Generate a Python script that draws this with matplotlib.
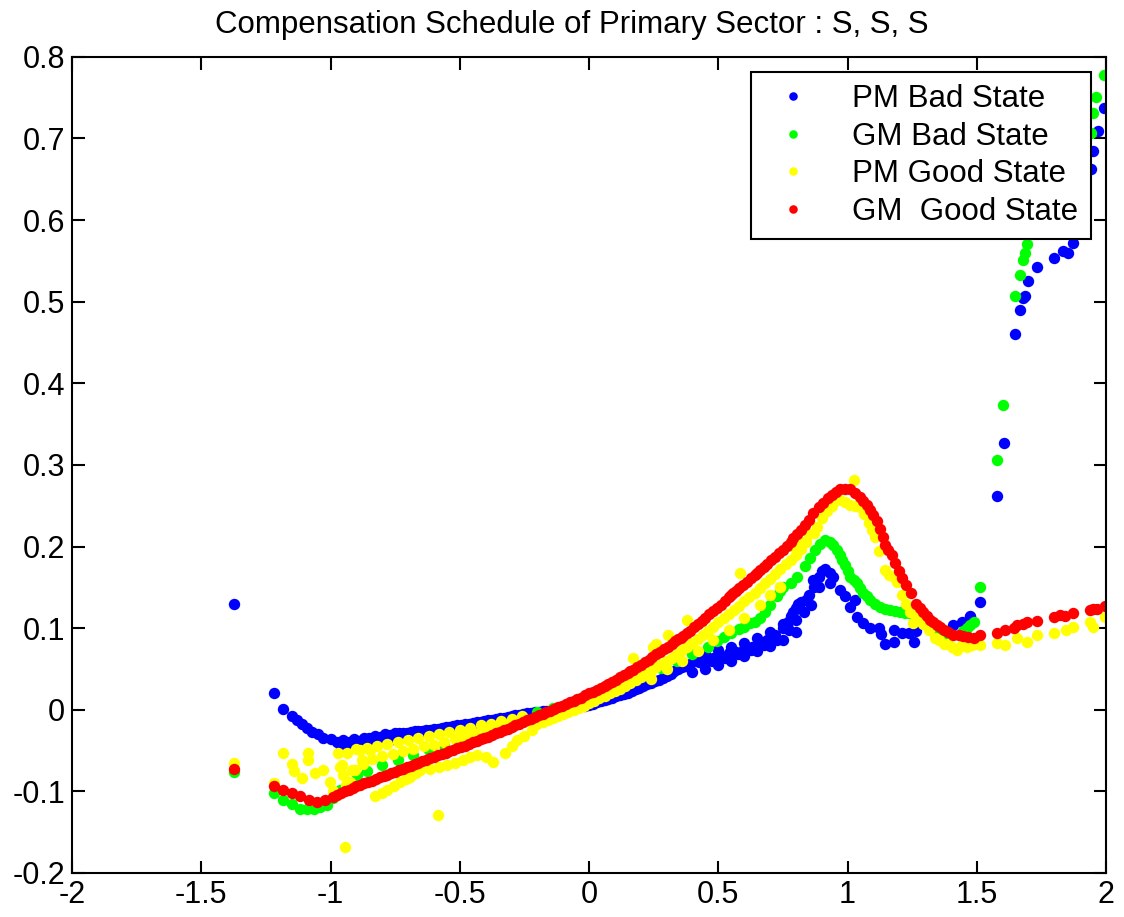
import matplotlib.pyplot as plt
import numpy as np

plt.rcParams['font.family'] = ['Liberation Sans', 'DejaVu Sans']

# PM Bad State (blue)
pm_bad_x = [-1.373, -1.217, -1.183, -1.15, -1.13, -1.11, -1.09, -1.07, -1.05, -1.03, -1.0, -0.976,
            -0.95, -0.93, -0.91, -0.89, -0.87, -0.85, -0.83, -0.81, -0.79, -0.77, -0.75, -0.72,
            -0.69, -0.66, -0.63, -0.60, -0.57, -0.54, -0.51, -0.48, -0.45, -0.42, -0.39, -0.36,
            -0.33, -0.30, -0.27, -0.24, -0.21, -0.18, -0.15, -0.12, -0.09, -0.06, -0.03, 0.0,
            0.03, 0.06, 0.09, 0.12, 0.15, 0.18, 0.21, 0.24, 0.27, 0.30, 0.33, 0.36, 0.39, 0.42,
            0.45, 0.48, 0.51, 0.54, 0.57, 0.60, 0.63, 0.66, 0.69, 0.72, 0.75, 0.77, 0.79, 0.81,
            -0.96, -0.93, -0.90, -0.87, -0.84, -0.80, -0.76,
            -0.735, -0.705, -0.675, -0.645, -0.615, -0.585, -0.555, -0.525, -0.495, -0.465, -0.435,
            -0.405, -0.375, -0.345, -0.315, -0.285, -0.255, -0.225, -0.195, -0.165, -0.135, -0.105,
            -0.075, -0.045, -0.015, 0.015, 0.045, 0.075, 0.105, 0.135, 0.165, 0.195, 0.225, 0.255,
            0.285, 0.315, 0.345, 0.375,
            0.45, 0.50, 0.55, 0.60, 0.65, 0.70, 0.75, 0.78, 0.80, 0.82, 0.84,
            0.40, 0.45, 0.50, 0.55, 0.60, 0.65, 0.70, 0.75, 0.80,
            0.425, 0.475, 0.525, 0.575, 0.625, 0.675, 0.725, 0.775, 0.80, 0.83, 0.85, 0.86,
            0.868, 0.888, 0.90, 0.913, 0.932, 0.945, 0.87, 0.89, 0.93, 0.971, 0.99, 1.01, 1.03,
            1.036, 1.061, 1.087, 1.12, 1.13, 1.145, 1.178, 1.178, 1.21, 1.236, 1.255, 1.265,
            1.293, 1.409, 1.441, 1.474, 1.475, 1.513, 1.577, 1.604, 1.649, 1.667, 1.68, 1.688,
            1.697, 1.733, 1.798, 1.832, 1.852, 1.871, 1.942, 1.948, 1.968, 1.991]
pm_bad_y = [0.130, 0.021, 0.001, -0.008, -0.012, -0.018, -0.022, -0.027, -0.030, -0.034, -0.036, -0.039,
            -0.037, -0.040, -0.036, -0.038, -0.034, -0.035, -0.032, -0.033, -0.030, -0.031, -0.029, -0.029,
            -0.027, -0.026, -0.025, -0.024, -0.022, -0.021, -0.019, -0.018, -0.016, -0.015, -0.013, -0.011,
            -0.010, -0.008, -0.006, -0.004, -0.003, -0.002, -0.001, 0.0, 0.001, 0.003, 0.004, 0.006,
            0.009, 0.012, 0.015, 0.018, 0.021, 0.025, 0.029, 0.033, 0.037, 0.041, 0.047, 0.052, 0.056, 0.060,
            0.062, 0.064, 0.066, 0.069, 0.071, 0.074, 0.077, 0.081, 0.086, 0.091, 0.100, 0.108, 0.120, 0.130,
            -0.046, -0.047, -0.044, -0.042, -0.040, -0.038, -0.036,
            -0.029, -0.028, -0.0265, -0.0255, -0.0245, -0.023, -0.0215, -0.020, -0.0185, -0.017, -0.0155,
            -0.014, -0.012, -0.0105, -0.009, -0.007, -0.005, -0.0035, -0.0025, -0.0015, -0.0005, 0.0005,
            0.002, 0.0035, 0.005, 0.0075, 0.0105, 0.0135, 0.0165, 0.0195, 0.023, 0.027, 0.031, 0.035,
            0.039, 0.044, 0.0495, 0.054,
            0.068, 0.073, 0.077, 0.082, 0.088, 0.095, 0.105, 0.115, 0.125, 0.132, 0.135,
            0.046, 0.050, 0.055, 0.060, 0.066, 0.072, 0.078, 0.085, 0.095,
            0.058, 0.060, 0.064, 0.068, 0.073, 0.079, 0.086, 0.098, 0.110, 0.120, 0.140, 0.128,
            0.159, 0.163, 0.170, 0.173, 0.167, 0.163, 0.150, 0.150, 0.155, 0.147, 0.139, 0.126, 0.135,
            0.114, 0.106, 0.100, 0.100, 0.093, 0.081, 0.083, 0.098, 0.094, 0.094, 0.083, 0.096,
            0.108, 0.104, 0.107, 0.114, 0.115, 0.132, 0.262, 0.327, 0.460, 0.490, 0.504, 0.507,
            0.525, 0.542, 0.553, 0.562, 0.560, 0.572, 0.662, 0.685, 0.709, 0.737]

# GM Bad State (green)
gm_bad_x = [-1.373, -1.217, -1.183, -1.15, -1.118, -1.09, -1.066, -1.04, -1.015, -0.99, -0.963, -0.93,
            -0.899, -0.86, -0.80, -0.74, -0.68, -0.62, -0.56, -0.50, -0.44, -0.38, -0.32, -0.26,
            -0.20, -0.14, -0.08, -0.02, 0.04, 0.10, 0.16, 0.22, 0.28, 0.34, 0.40, 0.46, 0.494,
            0.52, 0.55, 0.58, 0.60, 0.623, 0.64, 0.662, 0.68, 0.70, 0.726, 0.74, 0.752, 0.78,
            0.803, 0.835, 0.855, 0.874, 0.893, 0.913, 0.93, 0.945, 0.958, 0.971, 0.98, 0.99, 1.0,
            1.01, 1.023, 1.036, 1.048, 1.061, 1.074, 1.087, 1.105, 1.126, 1.145, 1.164, 1.184,
            1.203, 1.222, 1.242, 1.261, 1.281, 1.30, 1.319, 1.338, 1.358, 1.38, 1.448, 1.461,
            1.474, 1.487, 1.513, 1.577, 1.603, 1.649, 1.667, 1.678, 1.688, 1.694, 1.942, 1.948,
            1.961, 1.991]
gm_bad_y = [-0.076, -0.102, -0.111, -0.116, -0.121, -0.122, -0.121, -0.119, -0.117, -0.108, -0.098, -0.089,
            -0.080, -0.075, -0.068, -0.061, -0.055, -0.049, -0.043, -0.037, -0.031, -0.025, -0.018, -0.010,
            -0.003, 0.002, 0.007, 0.012, 0.019, 0.026, 0.034, 0.042, 0.051, 0.060, 0.068, 0.077, 0.084,
            0.089, 0.094, 0.099, 0.102, 0.106, 0.108, 0.112, 0.120, 0.128, 0.139, 0.145, 0.150, 0.155,
            0.163, 0.176, 0.186, 0.196, 0.203, 0.208, 0.205, 0.202, 0.196, 0.190, 0.183, 0.177, 0.170,
            0.163, 0.159, 0.155, 0.149, 0.143, 0.139, 0.135, 0.130, 0.126, 0.124, 0.122, 0.121,
            0.120, 0.119, 0.118, 0.115, 0.112, 0.108, 0.104, 0.099, 0.094, 0.090, 0.096, 0.100,
            0.104, 0.108, 0.151, 0.306, 0.373, 0.507, 0.533, 0.551, 0.560, 0.571, 0.707, 0.731,
            0.751, 0.778]

# PM Good State (yellow)
pm_good_x = [-1.373, -1.217, -1.183, -1.15, -1.14, -1.112, -1.086, -1.086, -1.06, -1.028, -1.002, -0.989,
             -0.97, -0.963, -0.957, -0.95, -0.94, -0.937, -0.925, -0.918, -0.905, -0.886, -0.873, -0.847,
             -0.944, -0.583,
             -0.90, -0.86, -0.82, -0.78, -0.74, -0.70, -0.66, -0.62, -0.58, -0.54, -0.50, -0.46, -0.42,
             -0.38, -0.34, -0.30, -0.26,
             -0.88, -0.84, -0.80, -0.76, -0.72, -0.68, -0.64, -0.60, -0.56, -0.52, -0.48, -0.44, -0.40,
             -0.36, -0.32, -0.28, -0.24,
             -0.828, -0.80, -0.783, -0.755, -0.731, -0.71, -0.692, -0.67, -0.654, -0.615, -0.58, -0.551,
             -0.52, -0.486, -0.46, -0.434, -0.40, -0.37, -0.325, -0.30, -0.28, -0.25, -0.22,
             -0.20, -0.16, -0.12, -0.08, -0.04, 0.0, 0.04, 0.08, 0.12, 0.16, 0.20, 0.24, 0.28, 0.32,
             0.36, 0.40, 0.44, 0.48, 0.52, 0.56, 0.60, 0.64, 0.68, 0.72, 0.76, 0.80, 0.84, 0.87,
             -0.18, -0.14, -0.10, -0.06, -0.02, 0.02, 0.06, 0.10, 0.14, 0.18, 0.22, 0.26, 0.30,
             0.34, 0.38, 0.42, 0.46, 0.50, 0.54, 0.58, 0.62, 0.66, 0.70, 0.74, 0.78, 0.82,
             0.24, 0.30, 0.36, 0.42, 0.48, 0.54, 0.60, 0.66, 0.70, 0.74,
             0.171, 0.248, 0.26, 0.306, 0.378, 0.584, 0.739, 0.791,
             0.82, 0.85, 0.881, 0.90, 0.919, 0.94, 0.971, 0.99, 1.01, 1.023, 1.03, 1.048, 1.065,
             1.081, 1.095, 1.107, 1.12, 1.145, 1.16, 1.178, 1.19, 1.21, 1.226, 1.24, 1.252, 1.265,
             1.29, 1.313, 1.338, 1.355, 1.371, 1.39, 1.405, 1.422, 1.44, 1.461, 1.48, 1.513, 1.577,
             1.61, 1.655, 1.694, 1.732, 1.797, 1.845, 1.87, 1.937, 1.95, 1.995]
pm_good_y = [-0.065, -0.090, -0.053, -0.066, -0.075, -0.084, -0.053, -0.062, -0.078, -0.074, -0.088, -0.100,
             -0.053, -0.070, -0.068, -0.080, -0.092, -0.053, -0.088, -0.074, -0.074, -0.049, -0.066, -0.049,
             -0.168, -0.129,
             -0.048, -0.047, -0.045, -0.042, -0.040, -0.037, -0.034, -0.032, -0.030, -0.027, -0.025, -0.022, -0.019,
             -0.017, -0.014, -0.011, -0.008,
             -0.062, -0.060, -0.057, -0.054, -0.051, -0.048, -0.045, -0.043, -0.040, -0.036, -0.033, -0.030, -0.027,
             -0.023, -0.020, -0.016, -0.012,
             -0.106, -0.102, -0.098, -0.093, -0.088, -0.085, -0.082, -0.078, -0.074, -0.072, -0.070, -0.068,
             -0.065, -0.062, -0.058, -0.055, -0.058, -0.064, -0.053, -0.045, -0.037, -0.032, -0.025,
             -0.018, -0.013, -0.008, -0.003, 0.002, 0.008, 0.014, 0.020, 0.026, 0.033, 0.040, 0.048, 0.056, 0.064,
             0.073, 0.082, 0.092, 0.102, 0.112, 0.122, 0.133, 0.143, 0.155, 0.166, 0.178, 0.190, 0.205, 0.216,
             -0.0155, -0.0105, -0.0055, -0.0005, 0.005, 0.011, 0.017, 0.023, 0.0295, 0.0365, 0.044, 0.052, 0.060,
             0.0685, 0.0775, 0.087, 0.097, 0.107, 0.117, 0.1275, 0.138, 0.149, 0.1605, 0.172, 0.184, 0.197,
             0.038, 0.050, 0.060, 0.072, 0.086, 0.098, 0.112, 0.128, 0.140, 0.150,
             0.063, 0.077, 0.080, 0.092, 0.110, 0.167, 0.151, 0.200,
             0.205, 0.215, 0.224, 0.235, 0.243, 0.250, 0.257, 0.255, 0.251, 0.282, 0.250, 0.249, 0.240,
             0.229, 0.220, 0.212, 0.195, 0.171, 0.165, 0.163, 0.156, 0.140, 0.130, 0.120, 0.106, 0.115,
             0.105, 0.098, 0.088, 0.085, 0.081, 0.080, 0.077, 0.073, 0.078, 0.077, 0.079, 0.079, 0.082,
             0.079, 0.088, 0.083, 0.092, 0.094, 0.098, 0.102, 0.107, 0.102, 0.114]

# GM Good State (red)
gm_good_x = [-1.373, -1.217, -1.183, -1.15, -1.118, -1.085, -1.054, -1.02, -0.99, -0.96, -0.93, -0.90,
             -0.87, -0.84, -0.81, -0.78, -0.75, -0.72, -0.69, -0.66, -0.63, -0.60, -0.57, -0.54,
             -0.51, -0.48, -0.45, -0.42, -0.39, -0.36, -0.33, -0.30, -0.27, -0.24, -0.21, -0.18,
             -0.15, -0.12, -0.09, -0.06, -0.03, 0.0, 0.03, 0.06, 0.09, 0.12, 0.15, 0.171, 0.20,
             0.23, 0.26, 0.29, 0.32, 0.345, 0.365, 0.39, 0.42, 0.45, 0.48, 0.51, 0.54, 0.558, 0.58,
             0.61, 0.64, 0.662, 0.69, 0.72, 0.752, 0.78, 0.803, 0.835, 0.868, 0.89, 0.906, 0.925,
             0.939, 0.955, 0.971, 0.99, 1.01, 1.03, 1.048, 1.06, 1.074, 1.087, 1.10, 1.113, 1.126,
             1.135, 1.145, 1.158, 1.171, 1.184, 1.197, 1.21, 1.226, 1.246, 1.265, 1.28, 1.293,
             1.306, 1.319, 1.332, 1.345, 1.358, 1.371, 1.39, 1.409, 1.43, 1.448, 1.467, 1.487,
             1.513, 1.577, 1.61, 1.643, 1.655, 1.68, 1.694, 1.732, 1.797, 1.82, 1.84, 1.87, 1.937,
             1.95, 1.963, 1.995,
             -0.975, -0.945, -0.915, -0.885, -0.855, -0.825, -0.795, -0.765, -0.735, -0.705, -0.675,
             -0.645, -0.615, -0.585, -0.555, -0.525, -0.495, -0.465, -0.435, -0.405, -0.375, -0.345,
             -0.315, -0.285, -0.255, -0.225, -0.195, -0.165, -0.135, -0.105, -0.075, -0.045, -0.015,
             0.015, 0.045, 0.075, 0.105, 0.135, 0.16, 0.185, 0.215, 0.245, 0.275, 0.305, 0.332,
             0.355, 0.378, 0.405, 0.435, 0.465, 0.495, 0.525, 0.549, 0.569, 0.595, 0.625, 0.651,
             0.676, 0.705, 0.736, 0.766, 0.79, 0.819, 0.85]
gm_good_y = [-0.073, -0.093, -0.098, -0.102, -0.106, -0.110, -0.113, -0.110, -0.107, -0.102, -0.098, -0.094,
             -0.090, -0.087, -0.083, -0.080, -0.076, -0.072, -0.069, -0.065, -0.061, -0.058, -0.054, -0.051,
             -0.047, -0.044, -0.040, -0.036, -0.033, -0.029, -0.025, -0.021, -0.017, -0.013, -0.009, -0.005,
             -0.001, 0.003, 0.007, 0.011, 0.015, 0.020, 0.024, 0.029, 0.034, 0.040, 0.045, 0.049, 0.055,
             0.061, 0.068, 0.074, 0.081, 0.087, 0.090, 0.097, 0.105, 0.113, 0.121, 0.128, 0.138, 0.143, 0.149,
             0.157, 0.165, 0.171, 0.179, 0.187, 0.196, 0.205, 0.215, 0.226, 0.241, 0.248, 0.253, 0.259,
             0.263, 0.267, 0.270, 0.271, 0.270, 0.266, 0.261, 0.256, 0.251, 0.245, 0.239, 0.231, 0.222,
             0.212, 0.202, 0.196, 0.190, 0.180, 0.170, 0.161, 0.153, 0.143, 0.130, 0.125, 0.120,
             0.115, 0.110, 0.107, 0.104, 0.101, 0.098, 0.095, 0.092, 0.091, 0.090, 0.089, 0.088,
             0.092, 0.094, 0.098, 0.100, 0.104, 0.105, 0.107, 0.109, 0.114, 0.116, 0.115, 0.118, 0.122,
             0.123, 0.124, 0.127,
             -0.105, -0.100, -0.096, -0.092, -0.0885, -0.085, -0.0815, -0.078, -0.074, -0.0705, -0.067,
             -0.063, -0.0595, -0.056, -0.0525, -0.049, -0.0455, -0.042, -0.038, -0.0345, -0.031, -0.027,
             -0.023, -0.019, -0.015, -0.011, -0.007, -0.003, 0.001, 0.005, 0.009, 0.013, 0.0175,
             0.022, 0.0265, 0.0315, 0.037, 0.0425, 0.047, 0.052, 0.058, 0.0645, 0.071, 0.0775, 0.084,
             0.0885, 0.0935, 0.101, 0.109, 0.117, 0.1245, 0.133, 0.1405, 0.146, 0.153, 0.161, 0.168,
             0.175, 0.183, 0.1915, 0.2005, 0.210, 0.2205, 0.233]

fig = plt.figure(figsize=(11.24, 9.17), dpi=100)
ax = fig.add_axes([0.0641, 0.048, 0.920, 0.890])

ms = 8.2
ax.plot(pm_bad_x, pm_bad_y, 'o', color='#0000ff', ms=ms, mew=0, label='PM Bad State')
ax.plot(gm_bad_x, gm_bad_y, 'o', color='#00ff00', ms=ms, mew=0, label='GM Bad State')
ax.plot(pm_good_x, pm_good_y, 'o', color='#ffff00', ms=ms, mew=0, label='PM Good State')
ax.plot(gm_good_x, gm_good_y, 'o', color='#ff0000', ms=ms, mew=0, label='GM  Good State')

ax.set_xlim(-2, 2)
ax.set_ylim(-0.2, 0.8)
ax.set_xticks(np.arange(-2, 2.01, 0.5))
ax.set_yticks(np.arange(-0.2, 0.81, 0.1))
ax.set_xticklabels(['%g' % round(v, 1) for v in np.arange(-2, 2.01, 0.5)])
ax.set_yticklabels(['%g' % round(v, 1) for v in np.arange(-0.2, 0.81, 0.1)])
ax.tick_params(direction='in', length=9, width=1.5, labelsize=22, top=True, right=True, pad=5)
for s in ax.spines.values():
    s.set_linewidth(1.5)

ax.set_title('Compensation Schedule of Primary Sector : S, S, S', fontsize=22.5, pad=17, x=0.483)

leg = ax.legend(loc='upper right', bbox_to_anchor=(0.985, 0.982), borderaxespad=0, fontsize=22.5,
                fancybox=False, edgecolor='black', framealpha=1, markerscale=0.75,
                handlelength=1.9, handletextpad=0.93, labelspacing=0.24, borderpad=0.4)
leg.get_frame().set_linewidth(1.5)

fig.savefig('out.png', dpi=100)
